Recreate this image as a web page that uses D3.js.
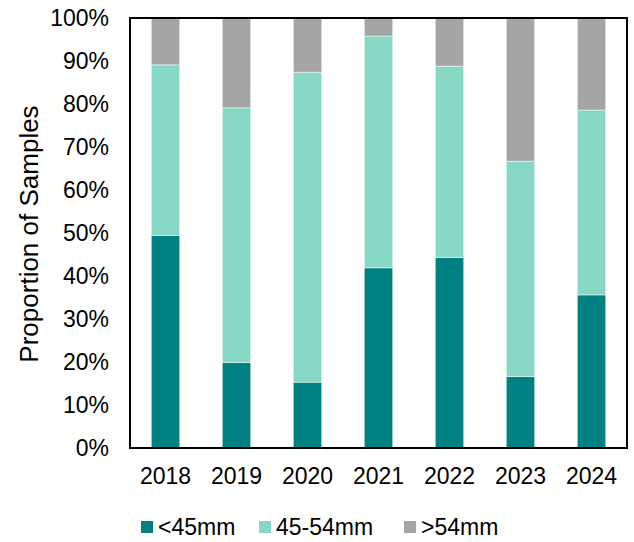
<!DOCTYPE html>
<html>
<head>
<meta charset="utf-8">
<script src="https://cdn.jsdelivr.net/npm/d3@7"></script>
<style>
  html, body { margin: 0; padding: 0; background: #fff; }
  svg { display: block; font-family: "Liberation Sans", Arial, sans-serif; }
</style>
</head>
<body>
<svg id="chart" width="634" height="542"></svg>
<script>
// Size-class proportions per sampling year (percent of samples)
const years = ["2018", "2019", "2020", "2021", "2022", "2023", "2024"];
const under45 = [49.4, 19.9, 15.3, 41.9, 44.3, 16.6, 35.6];
const mid45to54 = [39.7, 59.2, 72.1, 53.9, 44.5, 50.1, 43.0];
const over54 = [10.9, 20.9, 12.6, 4.2, 11.2, 33.3, 21.4];
const seriesNames = ["<45mm", "45-54mm", ">54mm"];
const seriesColors = ["#008080", "#86D8C4", "#A5A5A5"];
const yTicks = [0, 10, 20, 30, 40, 50, 60, 70, 80, 90, 100];

const rows = years.map((y, i) => ({
  year: y,
  "<45mm": under45[i],
  "45-54mm": mid45to54[i],
  ">54mm": over54[i]
}));

const svg = d3.select("#chart");
const margin = { top: 18, right: 7, bottom: 94, left: 130 };
const W = 634, H = 542;
const iw = W - margin.left - margin.right;
const ih = H - margin.top - margin.bottom;

const g = svg.append("g").attr("transform", `translate(${margin.left},${margin.top})`);

const x = d3.scaleBand().domain(years).range([0, iw]).paddingInner(0.6).paddingOuter(0.3);
const y = d3.scaleLinear().domain([0, 100]).range([ih, 0]);
const color = d3.scaleOrdinal().domain(seriesNames).range(seriesColors);

const stacked = d3.stack().keys(seriesNames)(rows);

g.selectAll("g.series")
  .data(stacked)
  .join("g")
  .attr("class", "series")
  .attr("fill", d => color(d.key))
  .selectAll("rect")
  .data(d => d)
  .join("rect")
  .attr("x", d => x(d.data.year))
  .attr("width", x.bandwidth())
  .attr("y", d => y(d[1]))
  .attr("height", d => y(d[0]) - y(d[1]))
  .attr("stroke", "#ffffff")
  .attr("stroke-opacity", 0.6)
  .attr("stroke-width", 0.8);

// Y axis labels
const yAxis = d3.axisLeft(y).tickValues(yTicks).tickFormat(d => d + "%").tickSize(0).tickPadding(21);
const ya = g.append("g").call(yAxis);
ya.select(".domain").remove();
ya.selectAll("text").attr("font-size", 23).attr("fill", "#000").attr("font-family", "Liberation Sans, Arial, sans-serif");

// X axis labels
const xAxis = d3.axisBottom(x).tickSize(0).tickPadding(20);
const xa = g.append("g").attr("transform", `translate(0,${ih})`).call(xAxis);
xa.select(".domain").remove();
xa.selectAll("text").attr("font-size", 23).attr("fill", "#000").attr("font-family", "Liberation Sans, Arial, sans-serif");

// Plot frame
g.append("rect")
  .attr("x", 0).attr("y", 0)
  .attr("width", iw).attr("height", ih)
  .attr("fill", "none")
  .attr("stroke", "#000")
  .attr("stroke-width", 2);

// Y title
svg.append("text")
  .attr("transform", `translate(38,${margin.top + ih / 2 + 1}) rotate(-90)`)
  .attr("text-anchor", "middle")
  .attr("font-size", 26)
  .attr("fill", "#000")
  .text("Proportion of Samples");

// Legend
const legendX = [141, 259, 404];
const legend = svg.append("g");
seriesNames.forEach((name, i) => {
  const lg = legend.append("g").attr("transform", `translate(${legendX[i]},527)`);
  lg.append("rect").attr("x", 0).attr("y", -6).attr("width", 12).attr("height", 12).attr("fill", seriesColors[i]);
  lg.append("text").attr("x", 17).attr("y", 0).attr("dy", "0.35em")
    .attr("font-size", 23).attr("fill", "#000").text(name);
});
</script>
</body>
</html>
